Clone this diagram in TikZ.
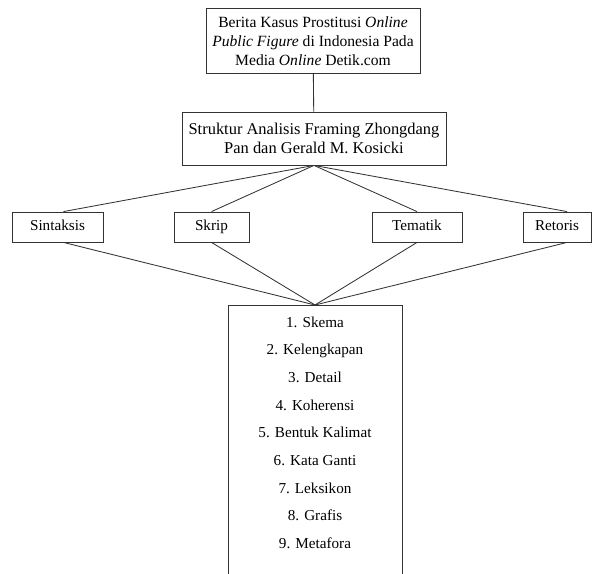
\documentclass[tikz,border=0pt]{standalone}
\usepackage{fontspec}
\setmainfont{Liberation Serif}
\usetikzlibrary{positioning}
\tikzset{
  box/.style={rectangle, draw=black!80, line width=0.6pt, align=center, inner sep=2pt, font=\fontsize{10.8}{13.2}\selectfont},
  strukbox/.style={box, minimum height=0.75cm, text height=0.7em, text depth=0.22em},
  link/.style={draw=black!80, line width=0.6pt},
}
\begin{document}
\begin{tikzpicture}
\useasboundingbox (0,0) rectangle (14.8,-14.35);
% Level 1: news source
\node[box, minimum width=5.35cm, minimum height=1.625cm, font=\fontsize{11.1}{13.6}\selectfont] (berita) at (7.825,-1.03) {Berita Kasus Prostitusi \textit{Online}\\\textit{Public Figure} di Indonesia Pada\\Media \textit{Online} Detik.com};
% Level 2: framing model
\node[box, minimum width=6.6cm, minimum height=1.325cm, font=\fontsize{11.7}{13.4}\selectfont] (struktur) at (7.85,-3.4625) {Struktur Analisis Framing Zhongdang\\Pan dan Gerald M. Kosicki};
\draw[link] (berita) -- (struktur);
% Level 3: structures
\node[strukbox, minimum width=2.275cm] (sintaksis) at (1.4375,-5.675) {Sintaksis};
\node[strukbox, minimum width=1.875cm] (skrip) at (5.2875,-5.675) {Skrip};
\node[strukbox, minimum width=2.25cm] (tematik) at (10.425,-5.675) {Tematik};
\node[strukbox, minimum width=1.7cm] (retoris) at (13.925,-5.675) {Retoris};
% Struktur to structures
\draw[link] (struktur.south) -- ([xshift=0.15cm]sintaksis.north);
\draw[link] (struktur.south) -- (skrip.north);
\draw[link] (struktur.south) -- (tematik.north);
\draw[link] (struktur.south) -- ([xshift=0.25cm]retoris.north);
% Level 4: framing elements
\node[box, minimum width=4.35cm, minimum height=7.2cm, anchor=north] (elemen) at (7.875,-7.625) {};
\node[font=\fontsize{10.8}{19.7}\selectfont, align=center, inner sep=0pt, anchor=north] (daftar) at ([yshift=-0.28cm]elemen.north) {1. Skema\\2. Kelengkapan\\3. Detail\\4. Koherensi\\5. Bentuk Kalimat\\6. Kata Ganti\\7. Leksikon\\8. Grafis\\9. Metafora};
% Structures to elements
\draw[link] ([xshift=0.15cm]sintaksis.south) -- (elemen.north);
\draw[link] (skrip.south) -- (elemen.north);
\draw[link] (tematik.south) -- (elemen.north);
\draw[link] ([xshift=0.25cm]retoris.south) -- (elemen.north);
\end{tikzpicture}
\end{document}
